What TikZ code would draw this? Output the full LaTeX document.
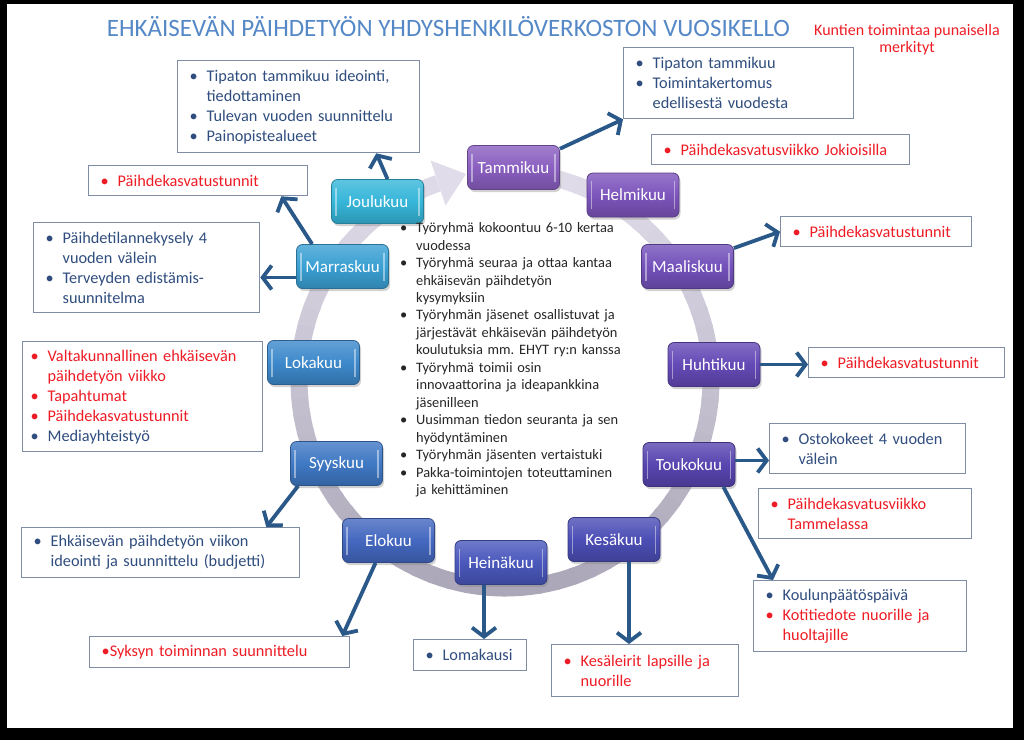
\documentclass[tikz,border=0pt]{standalone}
\usepackage{fontspec}
\setmainfont{Carlito}
\usetikzlibrary{arrows.meta,shadows,calc}
\definecolor{tblue}{HTML}{2F4D7E}
\definecolor{tred}{HTML}{EE1C25}
\definecolor{ttitle}{HTML}{5588C6}
\definecolor{arrc}{HTML}{2A5888}
\definecolor{boxb}{HTML}{7F8DA4}
\definecolor{ctext}{HTML}{262626}
\definecolor{ringL}{HTML}{E0DCE9}
\definecolor{ringD}{HTML}{ABA7B8}
\definecolor{m1}{HTML}{8A5FC0}
\definecolor{m2}{HTML}{7D55BC}
\definecolor{m3}{HTML}{7351BA}
\definecolor{m4}{HTML}{6449B6}
\definecolor{m5}{HTML}{5845B0}
\definecolor{m6}{HTML}{4C4EB6}
\definecolor{m7}{HTML}{4A58BC}
\definecolor{m8}{HTML}{4468C0}
\definecolor{m9}{HTML}{3F78C4}
\definecolor{m10}{HTML}{3D89CB}
\definecolor{m11}{HTML}{3AA0D3}
\definecolor{m12}{HTML}{36B6D9}
\newcommand\fs[2]{\fontsize{#1}{#2}\selectfont}
\newcommand\bu[1]{\makebox[17pt][l]{\textbullet}#1}
\newcommand\ct[1]{\hspace*{17pt}#1}
\begin{document}
\begin{tikzpicture}[x=1pt,y=-1pt,
  month/.style={rounded corners=6pt, minimum width=92pt, minimum height=44pt,
    inner sep=0pt, text=white, font=\fs{17}{19}, draw=#1!70!black, line width=0.8pt,
    top color=#1!80!white, bottom color=#1!82!black, middle color=#1,
    drop shadow={opacity=0.35, shadow xshift=1.5pt, shadow yshift=-2.5pt},
    path picture={
      \draw[white,opacity=0.45,line width=1.3pt]
        ([xshift=4.5pt,yshift=-8pt]path picture bounding box.north west) --
        ([xshift=4.5pt,yshift=8pt]path picture bounding box.south west);
      \draw[white,opacity=0.45,line width=1.3pt]
        ([xshift=-4.5pt,yshift=-8pt]path picture bounding box.north east) --
        ([xshift=-4.5pt,yshift=8pt]path picture bounding box.south east);}},
  obox/.style={draw=boxb, line width=1.3pt, fill=white, anchor=north west,
    inner xsep=12pt, inner ysep=0pt, align=left, font=\fs{16.3}{20}, text=tblue},
  arr/.style={draw=arrc, line width=3.8pt, -{Straight Barb[length=9pt,width=24pt]}}]
\useasboundingbox (0,0) rectangle (1024,740);
\fill[black] (0,0) rectangle (1024,740);
\fill[white] (7,4) rectangle (1013,728);

% title and note
\node[anchor=base, inner sep=0pt, font=\fs{25}{28}, text=ttitle] (title) at (448.5,36)
  {EHKÄISEVÄN PÄIHDETYÖN YHDYSHENKILÖVERKOSTON VUOSIKELLO};
\node[anchor=north, inner sep=0pt, align=center, font=\fs{16}{17}, text=tred] (note) at (907,24.5)
  {Kuntien toimintaa punaisella\\merkityt};

% ring
\foreach \a in {-85,-80,...,245}{
  \pgfmathsetmacro\m{50-50*sin(\a+3)}
  \draw[line width=17pt, color=ringL!\m!ringD] (505,380) ++(\a:206 and 208)
    arc[start angle=\a, end angle=\a+6, x radius=206, y radius=208];
}
\fill[ringL] (430.5,160.5) -- (466,174) -- (445.5,205.5) -- cycle;

% months
\node[month=m1] (tam) at (513.5,167.5) {Tammikuu};
\node[month=m2] (hel) at (633,195) {Helmikuu};
\node[month=m3] (maa) at (687.5,266.5) {Maaliskuu};
\node[month=m4] (huh) at (714,364.5) {Huhtikuu};
\node[month=m5] (tou) at (689,464.5) {Toukokuu};
\node[month=m6] (kes) at (614,539.5) {Kesäkuu};
\node[month=m7] (hei) at (501,562.5) {Heinäkuu};
\node[month=m8] (elo) at (388.5,540.5) {Elokuu};
\node[month=m9] (syy) at (336.5,463.5) {Syyskuu};
\node[month=m10] (lok) at (313.5,362.5) {Lokakuu};
\node[month=m11] (mar) at (342.5,266.5) {Marraskuu};
\node[month=m12] (jou) at (377.5,201.5) {Joulukuu};

% centre text
\node[anchor=north west, inner sep=0pt, align=left, text width=260pt,
  font=\fs{14.4}{17.45}, text=ctext] (ctr) at (400,222.5)
  {\makebox[16pt][l]{\textbullet}Työryhmä kokoontuu 6-10 kertaa\\
   \hspace*{16pt}vuodessa\\
   \makebox[16pt][l]{\textbullet}Työryhmä seuraa ja ottaa kantaa\\
   \hspace*{16pt}ehkäisevän päihdetyön\\
   \hspace*{16pt}kysymyksiin\\
   \makebox[16pt][l]{\textbullet}Työryhmän jäsenet osallistuvat ja\\
   \hspace*{16pt}järjestävät ehkäisevän päihdetyön\\
   \hspace*{16pt}koulutuksia mm.\ EHYT ry:n kanssa\\
   \makebox[16pt][l]{\textbullet}Työryhmä toimii osin\\
   \hspace*{16pt}innovaattorina ja ideapankkina\\
   \hspace*{16pt}jäsenilleen\\
   \makebox[16pt][l]{\textbullet}Uusimman tiedon seuranta ja sen\\
   \hspace*{16pt}hyödyntäminen\\
   \makebox[16pt][l]{\textbullet}Työryhmän jäsenten vertaistuki\\
   \makebox[16pt][l]{\textbullet}Pakka-toimintojen toteuttaminen\\
   \hspace*{16pt}ja kehittäminen};

% outer boxes
\node[obox, minimum width=242pt, minimum height=92pt, text width=218pt] (b1) at (177,60)
  {\bu{Tipaton tammikuu ideointi,}\\ \ct{tiedottaminen}\\ \bu{Tulevan vuoden suunnittelu}\\ \bu{Painopistealueet}};
\node[obox, minimum width=219pt, minimum height=30pt, text width=195pt, text=tred] (b2) at (88,165)
  {\bu{Päihdekasvatustunnit}};
\node[obox, minimum width=230pt, minimum height=71pt, text width=206pt] (b3) at (623,47)
  {\bu{Tipaton tammikuu}\\ \bu{Toimintakertomus}\\ \ct{edellisestä vuodesta}};
\node[obox, minimum width=258pt, minimum height=30pt, text width=234pt, text=tred] (b4) at (651,134)
  {\bu{Päihdekasvatusviikko Jokioisilla}};
\node[obox, minimum width=191pt, minimum height=30pt, text width=167pt, text=tred] (b5) at (780,216)
  {\bu{Päihdekasvatustunnit}};
\node[obox, minimum width=196pt, minimum height=30pt, text width=172pt, text=tred] (b6) at (808,347)
  {\bu{Päihdekasvatustunnit}};
\node[obox, minimum width=196pt, minimum height=50pt, text width=172pt] (b7) at (769,423)
  {\bu{Ostokokeet 4 vuoden}\\ \ct{välein}};
\node[obox, minimum width=213pt, minimum height=50pt, text width=189pt, text=tred] (b8) at (758,488)
  {\bu{Päihdekasvatusviikko}\\ \ct{Tammelassa}};
\node[obox, minimum width=213pt, minimum height=71pt, text width=189pt] (b9) at (753,580)
  {\bu{Koulunpäätöspäivä}\\ {\color{tred}\bu{Kotitiedote nuorille ja}}\\ {\color{tred}\ct{huoltajille}}};
\node[obox, minimum width=187pt, minimum height=52pt, text width=163pt, text=tred] (b10) at (551,644)
  {\bu{Kesäleirit lapsille ja}\\ \ct{nuorille}};
\node[obox, minimum width=113pt, minimum height=31pt, text width=89pt] (b11) at (413,639)
  {\bu{Lomakausi}};
\node[obox, minimum width=260pt, minimum height=31pt, text width=236pt, text=tred] (b12) at (89,636)
  {\textbullet Syksyn toiminnan suunnittelu};
\node[obox, minimum width=278pt, minimum height=50pt, text width=254pt] (b13) at (21,527)
  {\bu{Ehkäisevän päihdetyön viikon}\\ \ct{ideointi ja suunnittelu (budjetti)}};
\node[obox, inner xsep=8pt, minimum width=240pt, minimum height=110pt, text width=224pt, text=tred] (b14) at (22,341)
  {\bu{Valtakunnallinen ehkäisevän}\\ \ct{päihdetyön viikko}\\ \bu{Tapahtumat}\\ \bu{Päihdekasvatustunnit}\\ {\color{tblue}\bu{Mediayhteistyö}}};
\node[obox, minimum width=226pt, minimum height=90pt, text width=202pt] (b15) at (33,222)
  {\bu{Päihdetilannekysely 4}\\ \ct{vuoden välein}\\ \bu{Terveyden edistämis-}\\ \ct{suunnitelma}};

% connectors
\draw[arr] (tam.22) -- (b3.south west);
\draw[arr] ([xshift=10pt]jou.north) -- ([xshift=-44pt]b1.south east);
\draw[arr] ([xshift=16pt]mar.north west) -- ([xshift=-27pt]b2.south east);
\draw[arr] ([yshift=-11pt]mar.west) -- ([yshift=-11pt]mar.west -| b15.east);
\draw[arr] ([yshift=-4pt]maa.north east) -- (b5.west);
\draw[arr] (huh.east) -- (huh.east -| b6.west);
\draw[arr] ([yshift=4pt]tou.east) -- ([yshift=4pt]tou.east -| b7.west);
\draw[arr] ([xshift=-12pt]tou.south east) -- ([xshift=20pt]b9.north west);
\draw[arr] ([xshift=15pt]kes.south) -- ([xshift=15pt]kes.south |- b10.north);
\draw[arr] ([xshift=-17pt]hei.south) -- ([xshift=-17pt]hei.south |- b11.north);
\draw[arr] ([xshift=-13pt]elo.south) -- ([xshift=-8pt]b12.north east);
\draw[arr] ([xshift=8pt]syy.south west) -- ([xshift=-34pt]b13.north east);
\end{tikzpicture}
\end{document}
